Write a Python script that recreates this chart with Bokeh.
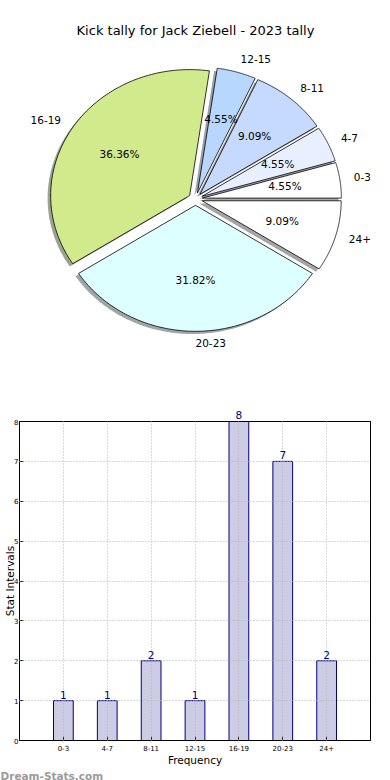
import numpy as np
from bokeh.plotting import figure
from bokeh.models import (ColumnDataSource, Range1d, FixedTicker,
                          LabelSet, LinearAxis, Title)
from bokeh.layouts import column
from bokeh.embed import file_html
from bokeh.resources import INLINE
from bokeh.core.properties import value

# ---------------- data ----------------
title_text = "Kick tally for Jack Ziebell - 2023 tally"
categories = ["0-3", "4-7", "8-11", "12-15", "16-19", "20-23", "24+"]
counts = [1, 1, 2, 1, 8, 7, 2]
y_ticks = [0, 1, 2, 3, 4, 5, 6, 7, 8]
x_label = "Frequency"
y_label = "Stat Intervals"
watermark = "Dream-Stats.com"

# ---------------- styles ----------------
slice_colors = ["#FFFFFF", "#E8F0FF", "#C6D9FF", "#B7D7FF", "#D0EA8C", "#DDFFFF", "#FFFFFF"]
FONT = "DejaVu Sans"
EXPLODE = 0.05
SHADOW = 0.022
BL, BR = 19, 20  # left / right borders shared by both panels

# ---------------- pie geometry from data ----------------
total = float(sum(counts))
fracs = np.array(counts, dtype=float) / total
ends = 2 * np.pi * np.cumsum(fracs)
starts = ends - 2 * np.pi * fracs
mids = (starts + ends) / 2.0

wx, wy, sx, sy, shadow_cols = [], [], [], [], []
for s, e, m, col in zip(starts, ends, mids, slice_colors):
    t = np.linspace(s, e, 120)
    cx, cy = EXPLODE * np.cos(m), EXPLODE * np.sin(m)
    px = np.concatenate([[cx], cx + np.cos(t), [cx]])
    py = np.concatenate([[cy], cy + np.sin(t), [cy]])
    wx.append(list(px)); wy.append(list(py))
    sx.append(list(px - SHADOW)); sy.append(list(py - SHADOW))
    r, g, b = int(col[1:3], 16), int(col[3:5], 16), int(col[5:7], 16)
    shadow_cols.append("#%02x%02x%02x" % (int(r * 0.3), int(g * 0.3), int(b * 0.3)))

# pie frame spans x 19..370 px, y 0..390 px; centre near (195, 198.5), 139 px/unit in x, 126 in y
pie = figure(width=390, height=390, x_range=Range1d(-1.2662, 1.2590),
             y_range=Range1d(-1.5198, 1.5754), x_axis_type=None, y_axis_type=None,
             toolbar_location=None, output_backend="svg",
             min_border_left=BL, min_border_right=BR, min_border_top=0, min_border_bottom=0)
pie.outline_line_color = None
pie.xgrid.visible = False
pie.ygrid.visible = False

pie.patches(xs=sx, ys=sy, fill_color=shadow_cols, fill_alpha=0.5, line_color=None)
pie.patches(xs=wx, ys=wy, fill_color=slice_colors, line_color="black", line_width=0.8)

lab_r = 1.1 + EXPLODE
pct_r = 0.6 + EXPLODE
cos_m = np.round(np.cos(mids), 6)
lab_src = ColumnDataSource(dict(
    x=lab_r * np.cos(mids), y=lab_r * np.sin(mids), text=categories,
    align=["left" if c >= 0 else "right" for c in cos_m]))
pie.text(x="x", y="y", text="text", text_align="align", text_baseline="middle", y_offset=-1,
         text_font=value(FONT), text_font_size="10.5px", text_color="black", source=lab_src)

pct_src = ColumnDataSource(dict(
    x=pct_r * np.cos(mids), y=pct_r * np.sin(mids),
    text=["%.2f%%" % (100 * f) for f in fracs]))
pie.text(x="x", y="y", text="text", text_align="center", text_baseline="middle", y_offset=-1,
         text_font=value(FONT), text_font_size="10.5px", text_color="black", source=pct_src)

pie.text(x=[0], y=[1.337], text=[title_text], text_align="center", text_baseline="middle",
         text_font=value(FONT), text_font_size="13px", text_color="black")

# ---------------- bar chart ----------------
idx = list(range(len(categories)))
y_max = y_ticks[-1]
bar = figure(width=390, height=390, x_range=Range1d(-1.0, 7.0), y_range=Range1d(0, y_max),
             toolbar_location=None, output_backend="svg",
             min_border_left=BL, min_border_right=BR, min_border_top=31, min_border_bottom=40)
bar.outline_line_color = "black"
bar.outline_line_width = 1
bottom_ax = bar.below[0]
left_ax = bar.left[0]

src = ColumnDataSource(dict(x=idx, top=counts))
bar.vbar(x="x", top="top", width=0.45, source=src, fill_color="#CCCCE5",
         line_color="#000080", line_width=1)

# value labels that fit inside the frame
inner = [i for i, c in enumerate(counts) if c < y_max]
lab = ColumnDataSource(dict(x=[idx[i] for i in inner], y=[counts[i] for i in inner],
                            text=[str(counts[i]) for i in inner]))
bar.add_layout(LabelSet(x="x", y="y", text="text", source=lab, y_offset=2,
                        text_align="center", text_baseline="bottom",
                        text_font=value(FONT), text_font_size="10.5px",
                        text_color="#000080"))

bottom_ax.ticker = FixedTicker(ticks=idx)
bottom_ax.major_label_overrides = {i: c for i, c in zip(idx, categories)}
left_ax.ticker = FixedTicker(ticks=y_ticks)

# value label of the bar that reaches the top of the frame, drawn just above it
top_idx = [i for i, c in enumerate(counts) if c >= y_max]
top_ax = LinearAxis(ticker=FixedTicker(ticks=top_idx),
                    major_label_overrides={i: str(counts[i]) for i in top_idx})
bar.add_layout(top_ax, "above")

for ax in (bottom_ax, left_ax, top_ax):
    ax.major_label_text_font = FONT
    ax.major_label_text_font_size = "7px"
    ax.major_label_text_color = "black"
    ax.axis_label_text_font = FONT
    ax.axis_label_text_font_size = "10.5px"
    ax.axis_label_text_font_style = "normal"
    ax.axis_label_text_color = "black"
    ax.major_tick_in = 4
    ax.major_tick_out = 0
    ax.minor_tick_line_color = None
    ax.axis_line_color = "black"
    ax.major_tick_line_color = "black"
top_ax.major_label_text_font_size = "10.5px"
top_ax.major_label_text_color = "#000080"
top_ax.major_label_standoff = 3
top_ax.major_tick_line_color = None

bottom_ax.axis_label = x_label
left_ax.axis_label = y_label
bottom_ax.major_label_standoff = 4
bottom_ax.axis_label_standoff = 0
left_ax.major_label_standoff = 1
left_ax.axis_label_standoff = -5

bar.xgrid.ticker = FixedTicker(ticks=idx)
bar.ygrid.ticker = FixedTicker(ticks=y_ticks[1:-1])
for g in (bar.xgrid, bar.ygrid):
    g.grid_line_color = "#b4b4b4"
    g.grid_line_dash = "1 2"
    g.grid_line_width = 1
    g.level = "annotation"

wm = Title(text=watermark, align="left", offset=-BL, standoff=-2,
           text_font=FONT, text_font_size="10.5px", text_font_style="bold",
           text_color="#9a9a9a")
bar.add_layout(wm, "below")

layout = column(pie, bar)
open("out.html", "w").write(file_html(layout, INLINE))
